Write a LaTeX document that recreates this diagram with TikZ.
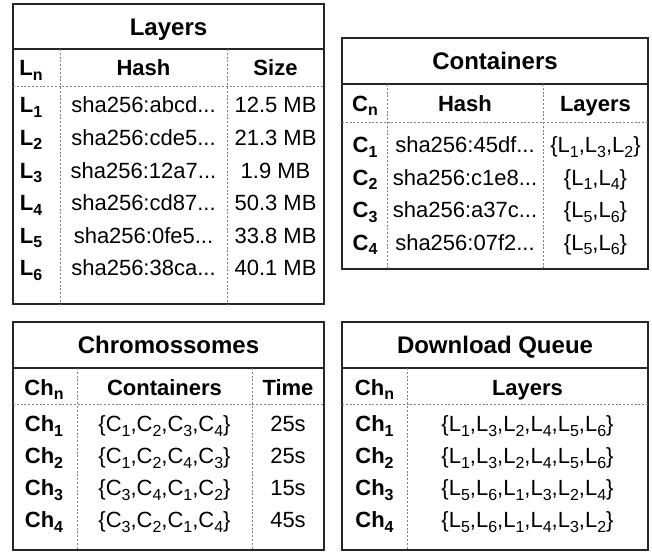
\documentclass[tikz,border=0pt]{standalone}
\usepackage{fontspec}
\setmainfont{Liberation Sans}
\usetikzlibrary{positioning}
\tikzset{
  tabframe/.style={draw=black!85, line width=1.4pt},
  sepline/.style={draw=black!50, line width=0.9pt, dash pattern=on 2pt off 1.8pt},
  titletext/.style={inner sep=0pt, anchor=base, font=\fontsize{24}{26}\selectfont\bfseries},
  headtext/.style={inner sep=0pt, anchor=base, font=\fontsize{22}{24}\selectfont\bfseries},
  idtext/.style={inner sep=0pt, anchor=base, font=\fontsize{22}{24}\selectfont\bfseries},
  celltext/.style={inner sep=0pt, anchor=base, font=\fontsize{22}{24}\selectfont},
}
\newcommand{\sbs}[1]{\raisebox{-4.5pt}{\fontsize{16}{16}\selectfont #1}}

\begin{document}
\begin{tikzpicture}[x=1pt, y=-1pt]
\useasboundingbox (0,0) rectangle (652,552);

% Layers table
\draw[tabframe] (13,4) rectangle (324,304);
\draw[tabframe] (13,49) -- (324,49);
\draw[sepline] (13,86) -- (324,86);
\draw[sepline] (60,49) -- (60,304);
\draw[sepline] (227,49) -- (227,304);
\node[titletext] (laytitle) at (168.5,35.2) {Layers};
\node[idtext] (layhid) at (31,75.5) {L\sbs{n}};
\node[headtext] (layhhash) at (143.5,75.5) {Hash};
\node[headtext] (layhsize) at (275.5,75.5) {Size};
\foreach \i/\hs/\sz [count=\k from 0] in {1/abcd/12.5, 2/cde5/21.3, 3/12a7/1.9,
    4/cd87/50.3, 5/0fe5/33.8, 6/38ca/40.1} {
  \pgfmathsetmacro{\yb}{105+32.6*\k+7.8}
  \node[idtext] (layid\i) at (31,\yb) {L\sbs{\i}};
  \node[celltext] (layhash\i) at (143.5,\yb) {sha256:\hs...};
  \node[celltext] (laysize\i) at (275.5,\yb) {\sz{} MB};
}

% Containers table
\draw[tabframe] (342,38) rectangle (648,269);
\draw[tabframe] (342,84) -- (648,84);
\draw[sepline] (342,122) -- (648,122);
\draw[sepline] (387,84) -- (387,269);
\draw[sepline] (543,84) -- (543,269);
\node[titletext] (cnttitle) at (495,69.6) {Containers};
\node[idtext] (cnthid) at (365,111) {C\sbs{n}};
\node[headtext] (cnthhash) at (465,111) {Hash};
\node[headtext] (cnthlay) at (595.5,111) {Layers};
\foreach \i/\hs/\ly [count=\k from 0] in {1/45df/{\{L\sbs{1},L\sbs{3},L\sbs{2}\}},
    2/c1e8/{\{L\sbs{1},L\sbs{4}\}}, 3/a37c/{\{L\sbs{5},L\sbs{6}\}},
    4/07f2/{\{L\sbs{5},L\sbs{6}\}}} {
  \pgfmathsetmacro{\yb}{145+32.5*\k+7.8}
  \node[idtext] (cntid\i) at (365,\yb) {C\sbs{\i}};
  \node[celltext] (cnthash\i) at (465,\yb) {sha256:\hs...};
  \node[celltext] (cntlay\i) at (595.5,\yb) {\ly};
}

% Chromossomes table
\draw[tabframe] (13,322) rectangle (324,550);
\draw[tabframe] (13,368) -- (324,368);
\draw[sepline] (13,404) -- (324,404);
\draw[sepline] (77,368) -- (77,550);
\draw[sepline] (252,368) -- (252,550);
\node[titletext] (chrtitle) at (168.5,353.6) {Chromossomes};
\node[idtext] (chrhid) at (44,395) {Ch\sbs{n}};
\node[headtext] (chrhcnt) at (164.5,395) {Containers};
\node[headtext] (chrhtime) at (288,395) {Time};
\foreach \i/\cs/\tm [count=\k from 0] in {1/{\{C\sbs{1},C\sbs{2},C\sbs{3},C\sbs{4}\}}/25s,
    2/{\{C\sbs{1},C\sbs{2},C\sbs{4},C\sbs{3}\}}/25s,
    3/{\{C\sbs{3},C\sbs{4},C\sbs{1},C\sbs{2}\}}/15s,
    4/{\{C\sbs{3},C\sbs{2},C\sbs{1},C\sbs{4}\}}/45s} {
  \pgfmathsetmacro{\yb}{424+32*\k+7.8}
  \node[idtext] (chrid\i) at (44,\yb) {Ch\sbs{\i}};
  \node[celltext] (chrcnt\i) at (164.5,\yb) {\cs};
  \node[celltext] (chrtime\i) at (288,\yb) {\tm};
}

% Download queue table
\draw[tabframe] (342,322) rectangle (648,550);
\draw[tabframe] (342,368) -- (648,368);
\draw[sepline] (342,404) -- (648,404);
\draw[sepline] (407,368) -- (407,550);
\node[titletext] (dlqtitle) at (495,353.6) {Download Queue};
\node[idtext] (dlqhid) at (374.5,395) {Ch\sbs{n}};
\node[headtext] (dlqhlay) at (527.5,395) {Layers};
\foreach \i/\ls [count=\k from 0] in {1/{\{L\sbs{1},L\sbs{3},L\sbs{2},L\sbs{4},L\sbs{5},L\sbs{6}\}},
    2/{\{L\sbs{1},L\sbs{3},L\sbs{2},L\sbs{4},L\sbs{5},L\sbs{6}\}},
    3/{\{L\sbs{5},L\sbs{6},L\sbs{1},L\sbs{3},L\sbs{2},L\sbs{4}\}},
    4/{\{L\sbs{5},L\sbs{6},L\sbs{1},L\sbs{4},L\sbs{3},L\sbs{2}\}}} {
  \pgfmathsetmacro{\yb}{424+32*\k+7.8}
  \node[idtext] (dlqid\i) at (374.5,\yb) {Ch\sbs{\i}};
  \node[celltext] (dlqlay\i) at (527.5,\yb) {\ls};
}
\end{tikzpicture}
\end{document}
